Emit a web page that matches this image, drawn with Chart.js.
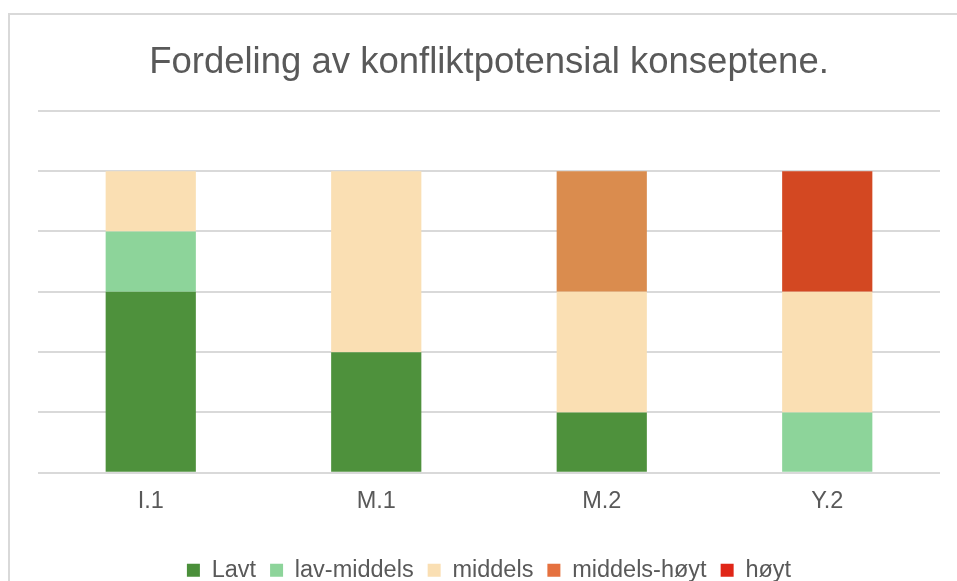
<!DOCTYPE html>
<html lang="no">
<head>
<meta charset="utf-8">
<title>Fordeling av konfliktpotensial konseptene.</title>
<script src="https://cdn.jsdelivr.net/npm/chart.js@4/dist/chart.umd.min.js"></script>
<style>
    html, body { margin: 0; padding: 0; background: #fff; overflow: hidden; }
    #wrap { position: relative; width: 957px; height: 581px; overflow: hidden; }
    #frame {
        position: absolute; left: 8px; top: 13px; width: 1000px; height: 1000px;
        border-left: 2px solid #d9d9d9; border-top: 2px solid #d9d9d9;
    }
    #chart { position: absolute; left: 0; top: 0; }
</style>
</head>
<body>
<div id="wrap">
    <div id="frame"></div>
    <canvas id="chart" width="957" height="592"></canvas>
</div>
<script>
// data
const categories = ['I.1', 'M.1', 'M.2', 'Y.2'];
const seriesNames = ['Lavt', 'lav-middels', 'middels', 'middels-høyt', 'høyt'];
const lavt = [3, 2, 1, 0];
const lavMiddels = [1, 0, 0, 1];
const middels = [1, 3, 2, 2];
const middelsHoyt = [0, 0, 2, 0];
const hoyt = [0, 0, 0, 2];

const barColors = ['#4e913c', '#8dd49a', '#fadfb3', '#da8c4e', '#d34822'];
const legendColors = ['#4a8f3a', '#8dd49a', '#fadfb3', '#e5713f', '#e02617'];
const textColor = '#595959';
const gridColor = '#d9d9d9';

Chart.defaults.font.family = '"Liberation Sans", Arial, sans-serif';
Chart.defaults.color = textColor;

const seriesValues = [lavt, lavMiddels, middels, middelsHoyt, hoyt];

const ctx = document.getElementById('chart');
new Chart(ctx, {
    type: 'bar',
    data: {
        labels: categories,
        datasets: seriesNames.map((name, i) => ({
            label: name,
            data: seriesValues[i],
            backgroundColor: barColors[i],
            borderWidth: 0,
            categoryPercentage: 1,
            barPercentage: 0.4
        }))
    },
    options: {
        responsive: false,
        animation: false,
        layout: { padding: { left: 38, right: 17, top: 0, bottom: 0 } },
        plugins: {
            title: {
                display: true,
                text: 'Fordeling av konfliktpotensial konseptene.',
                color: textColor,
                font: { size: 36.5, weight: 'normal' },
                padding: { top: 41, bottom: 26 }
            },
            legend: {
                position: 'bottom',
                labels: {
                    boxWidth: 13,
                    boxHeight: 13,
                    padding: 14,
                    color: textColor,
                    font: { size: 23.5 },
                    generateLabels: chart => {
                        const items = Chart.defaults.plugins.legend.labels.generateLabels(chart);
                        items.forEach((it, i) => {
                            it.fillStyle = legendColors[i];
                            it.strokeStyle = legendColors[i];
                            it.lineWidth = 0;
                        });
                        return items;
                    }
                }
            },
            tooltip: { enabled: false }
        },
        scales: {
            x: {
                stacked: true,
                grid: { display: false },
                border: { display: false },
                ticks: { color: textColor, font: { size: 23.5 }, padding: 7 },
                afterFit: scale => { scale.height += 21.5; }
            },
            y: {
                stacked: true,
                min: 0,
                max: 6,
                ticks: { display: false, stepSize: 1 },
                grid: { color: gridColor, lineWidth: 2, drawTicks: false, tickLength: 0 },
                border: { display: false }
            }
        }
    }
});
</script>
</body>
</html>
